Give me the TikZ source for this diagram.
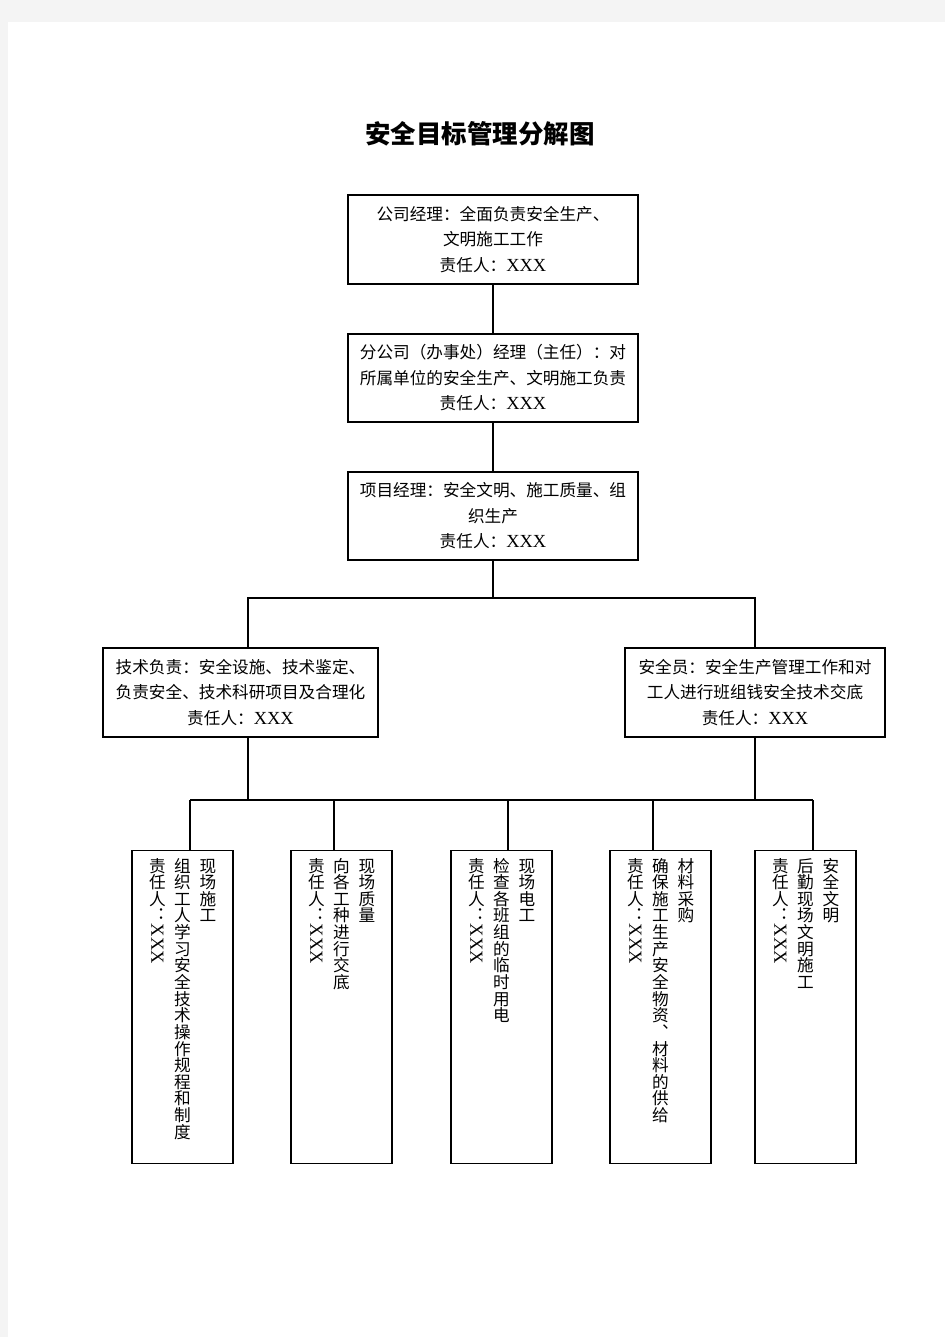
\documentclass[tikz,border=0pt]{standalone}
\usepackage{graphicx}
\usepackage{fontspec}
\setmainfont{Liberation Serif}
\newfontfamily\cjk{Noto Sans CJK SC}
\newfontfamily\cjkv[RawFeature=+vert]{Noto Sans CJK SC}
\usepackage{tikz}
\usetikzlibrary{calc}
\definecolor{pagegray}{HTML}{F4F4F4}
\newcommand\xxx{{\rmfamily\fontsize{10.5}{12}\selectfont XXX}}
\makeatletter
\def\vc@l#1{\ifx\@nil#1\else\hbox to 1em{\hss\vrule width0pt height.88em depth.12em\relax#1\hss}\expandafter\vc@l\fi}
\newcommand\vcol[1]{\vbox{\offinterlineskip\expandafter\vc@l#1\@nil}}
\newcommand\vxcol[1]{\vbox{\offinterlineskip\expandafter\vc@l#1\@nil\hbox to 1em{\hss\rotatebox{-90}{\xxx}\hss}}}
\makeatother

\begin{document}
\begin{tikzpicture}[x=0.02cm,y=-0.02cm,
    topbox/.style={draw,line width=1.1pt,minimum width=5.8cm,minimum height=1.77cm,inner sep=0pt,align=center,font=\fontsize{9.47}{14.5}\selectfont\cjk},
    midbox/.style={topbox,minimum height=1.78cm},
    lowbox/.style={draw,line width=0.8pt,minimum width=2.02cm,minimum height=6.26cm,anchor=north,inner sep=0pt},
    vtext/.style={anchor=north,inner sep=0pt,font=\fontsize{9.47}{9.47}\selectfont\cjkv},
    upline/.style={line width=1.1pt},
    lowline/.style={line width=0.75pt}]
    \useasboundingbox (0,0) rectangle (945,1337);
    \fill[pagegray] (0,0) rectangle (945,1337);
    \fill[white] (8,22) rectangle (945,1337);
    \node[font=\fontsize{14.5}{16}\selectfont\cjk\bfseries] (title) at (480,134) {安全目标管理分解图};
    \node[topbox] (gs) at (493,239.5) {公司经理：全面负责安全生产、\\文明施工工作\\责任人：\xxx};
    \node[topbox] (fgs) at (493,378) {分公司（办事处）经理（主任）：对\\所属单位的安全生产、文明施工负责\\责任人：\xxx};
    \node[topbox] (xm) at (493,516) {项目经理：安全文明、施工质量、组\\织生产\\责任人：\xxx};
    \node[midbox,minimum width=5.5cm] (js) at (240.5,692.5) {技术负责：安全设施、技术鉴定、\\负责安全、技术科研项目及合理化\\责任人：\xxx};
    \node[midbox,minimum width=5.2cm] (aq) at (755,692.5) {安全员：安全生产管理工作和对\\工人进行班组钱安全技术交底\\责任人：\xxx};
    \foreach \n/\x/\a/\b in {b1/182.5/现场施工/组织工人学习安全技术操作规程和制度,b2/341.5/现场质量/向各工种进行交底,b3/501.5/现场电工/检查各班组的临时用电,b4/660.5/材料采购/确保施工生产安全物资、材料的供给,b5/805.5/安全文明/后勤现场文明施工}
    {
        \node[lowbox] (\n) at (\x,850) {};
        \node[vtext] (\n r) at (\x+25.5,857) {\vcol{\a}};
        \node[vtext] (\n m) at (\x,857) {\vcol{\b}};
        \node[vtext] (\n l) at (\x-25,857) {\vxcol{责任人：}};
    }
    \coordinate (ja) at (493,598);
    \coordinate (jl) at (248,598);
    \coordinate (jr) at (755,598);
    \coordinate (kl) at (190,800);
    \coordinate (kj) at (248,800);
    \coordinate (kr) at (813,800);
    \draw[upline] (gs) -- (fgs);
    \draw[upline] (fgs) -- (xm);
    \draw[upline] (xm) -- (ja);
    \draw[upline] (jl |- js.north) -- (jl) -- (jr) -- (aq);
    \draw[upline] (jl |- js.south) -- (kj);
    \draw[upline] (aq) -- (aq |- kr);
    \draw[lowline] (kl) -- (kr);
    \foreach \n/\x in {b1/190,b2/334,b3/508,b4/653,b5/813}
    {
        \draw[lowline] (\x,800) -- (\x,0 |- \n.north);
    }
\end{tikzpicture}
\end{document}
